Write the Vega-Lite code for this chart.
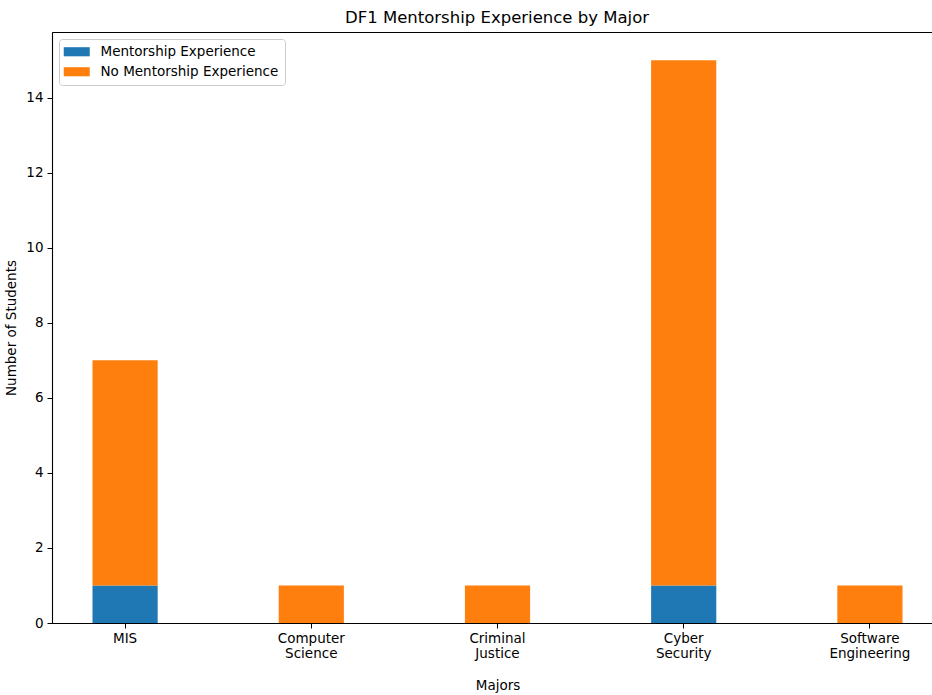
{
  "$schema": "https://vega.github.io/schema/vega-lite/v6.json",
  "autosize": "none",
  "width": 880,
  "height": 591,
  "padding": {"left": 52, "top": 32, "right": 0, "bottom": 72},
  "background": "white",
  "config": {
    "font": "DejaVu Sans",
    "view": {"stroke": "black", "strokeWidth": 1}
  },
  "title": {
    "text": "DF1 Mentorship Experience by Major",
    "fontSize": 16.5,
    "fontWeight": "normal",
    "color": "black",
    "anchor": "middle",
    "dx": 5,
    "offset": 6
  },
  "data": {
    "values": [
      {"major": "MIS", "group": "Mentorship Experience", "count": 1},
      {"major": "MIS", "group": "No Mentorship Experience", "count": 6},
      {"major": "Computer Science", "group": "Mentorship Experience", "count": 0},
      {"major": "Computer Science", "group": "No Mentorship Experience", "count": 1},
      {"major": "Criminal Justice", "group": "Mentorship Experience", "count": 0},
      {"major": "Criminal Justice", "group": "No Mentorship Experience", "count": 1},
      {"major": "Cyber Security", "group": "Mentorship Experience", "count": 1},
      {"major": "Cyber Security", "group": "No Mentorship Experience", "count": 14},
      {"major": "Software Engineering", "group": "Mentorship Experience", "count": 0},
      {"major": "Software Engineering", "group": "No Mentorship Experience", "count": 1}
    ]
  },
  "mark": {"type": "bar", "stroke": null},
  "encoding": {
    "x": {
      "field": "major",
      "type": "nominal",
      "sort": ["MIS", "Computer Science", "Criminal Justice", "Cyber Security", "Software Engineering"],
      "scale": {"range": [0, 891], "paddingInner": 0.65, "paddingOuter": 0.2175},
      "axis": {
        "title": "Majors",
        "titleFontSize": 13.5,
        "titleFontWeight": "normal",
        "titleColor": "black",
        "titlePadding": 19,
        "labelAngle": 0,
        "labelFontSize": 13.5,
        "labelColor": "black",
        "labelExpr": "split(datum.label, ' ')",
        "labelLineHeight": 15,
        "labelPadding": 3,
        "labelBaseline": "top",
        "tickColor": "black",
        "tickSize": 5,
        "domainColor": "black",
        "domainWidth": 1.1
      }
    },
    "y": {
      "field": "count",
      "type": "quantitative",
      "stack": "zero",
      "scale": {"domain": [0, 15.75], "nice": false},
      "axis": {
        "title": "Number of Students",
        "titleFontSize": 13.5,
        "titleFontWeight": "normal",
        "titleColor": "black",
        "titlePadding": 7,
        "values": [0, 2, 4, 6, 8, 10, 12, 14],
        "grid": false,
        "labelFontSize": 13.5,
        "labelColor": "black",
        "labelPadding": 4,
        "tickColor": "black",
        "tickSize": 5,
        "domainColor": "black",
        "domainWidth": 1.1
      }
    },
    "color": {
      "field": "group",
      "type": "nominal",
      "scale": {
        "domain": ["Mentorship Experience", "No Mentorship Experience"],
        "range": ["#1f77b4", "#ff7f0e"]
      },
      "legend": {
        "title": null,
        "orient": "top-left",
        "offset": 7,
        "padding": 6,
        "fillColor": "white",
        "strokeColor": "#cccccc",
        "cornerRadius": 3,
        "labelFontSize": 13.5,
        "labelColor": "black",
        "labelLimit": 0,
        "labelOffset": 17,
        "rowPadding": 5,
        "symbolType": "M-2,-0.7H2V0.7H-2Z",
        "symbolSize": 169,
        "symbolStrokeWidth": 0,
        "symbolOpacity": 1,
        "symbolOffset": 5
      }
    },
    "order": {"field": "group", "sort": "ascending"}
  }
}
